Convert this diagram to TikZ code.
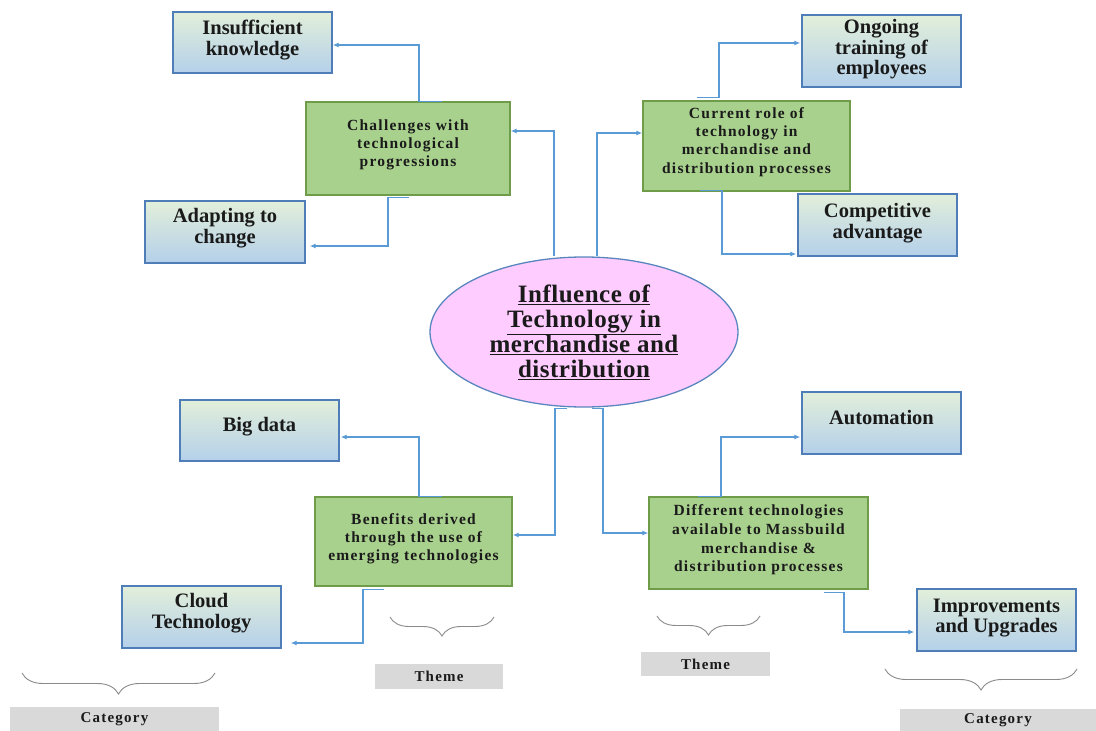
\documentclass[tikz,border=0pt]{standalone}
\usepackage{fontspec}
\setmainfont{Liberation Serif}
\newfontfamily\gfont[LetterSpace=8]{Liberation Serif}
\newfontfamily\efont[LetterSpace=2]{Liberation Serif}
\usetikzlibrary{shapes.geometric,arrows.meta,decorations.pathreplacing}
\definecolor{bluetop}{HTML}{E2EFDA}
\definecolor{bluebot}{HTML}{B4D0EA}
\definecolor{blueline}{HTML}{4F7DB8}
\definecolor{greenfill}{HTML}{A9D18E}
\definecolor{greenline}{HTML}{6E9C48}
\definecolor{pinkfill}{HTML}{FFCCFF}
\definecolor{ellline}{HTML}{5A86BE}
\definecolor{connblue}{HTML}{5B9BD5}
\definecolor{barfill}{HTML}{D9D9D9}
\definecolor{bracegray}{HTML}{8A8A8A}
\definecolor{txt}{HTML}{1A1A1A}
\begin{document}
\begin{tikzpicture}[x=1pt,y=-1pt,
  bluebox/.style={draw=blueline, line width=1.3pt, top color=bluetop, bottom color=bluebot, inner sep=0pt},
  greenbox/.style={draw=greenline, line width=1.3pt, fill=greenfill, inner sep=0pt},
  bluetext/.style={align=center, font=\bfseries\fontsize{20.5}{20.5}\selectfont, text=txt, inner sep=0pt},
  greentext/.style={align=center, font=\gfont\bfseries\fontsize{15.5}{18.2}\selectfont, text=txt, inner sep=0pt},
  bartext/.style={fill=barfill, inner sep=0pt, align=center, font=\gfont\bfseries\fontsize{15}{18}\selectfont, text=txt},
  conn/.style={draw=connblue, line width=1.5pt, -{Latex[length=6pt,width=5pt]}},
  bracestyle/.style={draw=bracegray, line width=0.9pt, decorate, decoration={brace, amplitude=20pt, mirror}}
]
\useasboundingbox (0,0) rectangle (1096,731);
\fill[white] (0,0) rectangle (1096,731);

% blue category boxes
\node[bluebox, minimum width=159pt, minimum height=61pt] (ik) at (252.5,42.5) {};
\node[bluetext] (ikt) at ([yshift=2.5pt]ik.center) {Insufficient\\knowledge};
\node[bluebox, minimum width=160pt, minimum height=62pt] (ad) at (225,232) {};
\node[bluetext] (adt) at ([yshift=4pt]ad.center) {Adapting to\\change};
\node[bluebox, minimum width=159pt, minimum height=72pt] (og) at (881.5,51) {};
\node[bluetext] (ogt) at ([yshift=1.5pt]og.center) {Ongoing\\training of\\employees};
\node[bluebox, minimum width=159pt, minimum height=62pt] (ca) at (877.5,225) {};
\node[bluetext] (cat) at ([yshift=2pt]ca.center) {Competitive\\advantage};
\node[bluebox, minimum width=159pt, minimum height=61pt] (bd) at (259.5,430.5) {};
\node[bluetext] (bdt) at ([yshift=4pt]bd.center) {Big data};
\node[bluebox, minimum width=159pt, minimum height=62pt] (ct) at (201.5,617) {};
\node[bluetext] (ctt) at ([yshift=4pt]ct.center) {Cloud\\Technology};
\node[bluebox, minimum width=159pt, minimum height=62pt] (au) at (881.5,423) {};
\node[bluetext] (aut) at ([yshift=5pt]au.center) {Automation};
\node[bluebox, minimum width=159pt, minimum height=62pt] (iu) at (996.5,620) {};
\node[bluetext] (iut) at ([yshift=2pt]iu.center) {Improvements\\and Upgrades};

% green theme boxes
\node[greenbox, minimum width=204pt, minimum height=93pt] (ch) at (408,148.5) {};
\node[greentext] (cht) at ([yshift=3.5pt]ch.center) {Challenges with\\technological\\progressions};
\node[greenbox, minimum width=207pt, minimum height=90pt] (cr) at (746.5,146) {};
\node[greentext] (crt) at ([yshift=4pt]cr.center) {Current role of\\technology in\\merchandise and\\distribution processes};
\node[greenbox, minimum width=197pt, minimum height=89pt] (be) at (413.5,541.5) {};
\node[greentext] (bet) at ([yshift=3pt]be.center) {Benefits derived\\through the use of\\emerging technologies};
\node[greenbox, minimum width=219pt, minimum height=92pt] (dt) at (758.5,543) {};
\node[greentext, font=\gfont\bfseries\fontsize{15.5}{18.7}\selectfont] (dtt) at ([yshift=3pt]dt.center) {Different technologies\\available to Massbuild\\merchandise \&\\distribution processes};

% central ellipse
\node[ellipse, draw=ellline, line width=1.3pt, fill=pinkfill, minimum width=308pt, minimum height=150pt, inner sep=0pt, align=center, text=txt, font=\efont\bfseries\fontsize{25}{25}\selectfont] (el) at (584,332)
  {\underline{Influence of}\\\underline{Technology in}\\\underline{merchandise and}\\\underline{distribution}};

% connectors
\draw[conn] ([xshift=-30pt]el.north) |- ([yshift=17.5pt]ch.east);
\draw[conn] ([xshift=13pt]el.north) |- ([yshift=13pt]cr.west);
\draw[conn] ([xshift=-17pt,yshift=-1pt]el.south) -- ([xshift=-29pt,yshift=-1pt]el.south) |- ([yshift=6.5pt]be.east);
\draw[conn] ([xshift=8pt,yshift=-1pt]el.south) -- ([xshift=19pt,yshift=-1pt]el.south) |- ([yshift=10pt]dt.west);

\draw[conn] ([xshift=34pt]ch.north) -- ([xshift=11pt]ch.north) |- ([yshift=-2.5pt]ik.east);
\draw[conn] ([xshift=1pt,yshift=-2pt]ch.south) -- ([xshift=-20pt,yshift=-2pt]ch.south) |- ([xshift=4pt,yshift=-14pt]ad.east);
\draw[conn] ([xshift=-49.5pt,yshift=3pt]cr.north) -- ([xshift=-27.5pt,yshift=3pt]cr.north) |- ([xshift=-1pt,yshift=8pt]og.west);
\draw[conn] ([xshift=-46.5pt,yshift=1pt]cr.south) -- ([xshift=-24.5pt,yshift=1pt]cr.south) |- ([xshift=-1pt,yshift=-29pt]ca.west);
\draw[conn] ([xshift=28.5pt]be.north) -- ([xshift=5.5pt]be.north) |- ([xshift=1pt,yshift=-6.5pt]bd.east);
\draw[conn] ([xshift=-29.5pt,yshift=-3pt]be.south) -- ([xshift=-50.5pt,yshift=-3pt]be.south) |- ([xshift=9pt,yshift=-26pt]ct.east);
\draw[conn] ([xshift=-60.5pt]dt.north) -- ([xshift=-37.5pt]dt.north) |- ([xshift=-1pt,yshift=-14pt]au.west);
\draw[conn] ([xshift=65.5pt,yshift=-3pt]dt.south) -- ([xshift=85.5pt,yshift=-3pt]dt.south) |- ([xshift=-2pt,yshift=-12pt]iu.west);

% braces
\draw[bracestyle, decoration={amplitude=21pt}] (22,673) -- (215,673);
\draw[bracestyle, decoration={amplitude=19pt}] (390,617) -- (494,617);
\draw[bracestyle, decoration={amplitude=19pt}] (657,616) -- (760,616);
\draw[bracestyle, decoration={amplitude=21pt}] (885,669) -- (1077,669);

% label bars
\node[bartext, minimum width=209pt, minimum height=24pt] (cat1) at (114.5,719) {Category};
\node[bartext, minimum width=128pt, minimum height=25pt] (th1) at (439,676.5) {Theme};
\node[bartext, minimum width=129pt, minimum height=24pt] (th2) at (705.5,664) {Theme};
\node[bartext, minimum width=196pt, minimum height=22pt] (cat2) at (998,720) {Category};
\end{tikzpicture}
\end{document}
